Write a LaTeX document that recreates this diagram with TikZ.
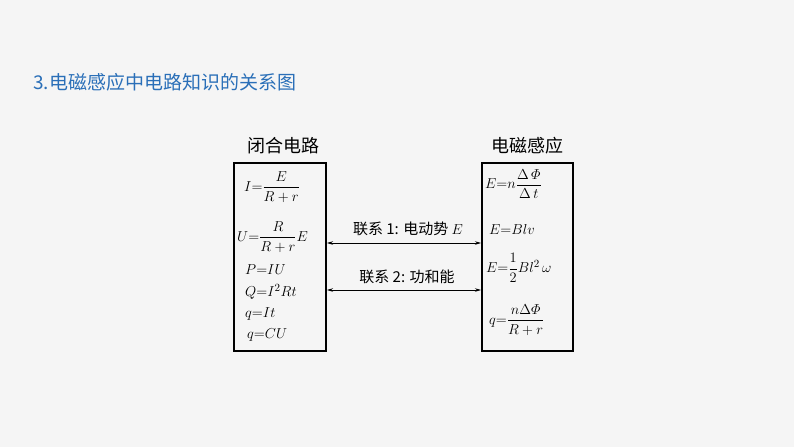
\documentclass[tikz,border=0pt]{standalone}
\usepackage{amsmath}
\usepackage{fontspec}
\newfontfamily\cjk{Noto Sans CJK SC}
\usetikzlibrary{arrows.meta}
\definecolor{titleblue}{HTML}{2A6FB8}
\tikzset{box/.style={draw,line width=1.3pt},
 link/.style={{Stealth[length=6pt,width=3.5pt]}-{Stealth[length=6pt,width=3.5pt]},line width=0.7pt},
 f/.style={font=\fontsize{15}{16}\selectfont,inner sep=0pt},
 lab/.style={font=\fontsize{15}{16}\selectfont\cjk,inner sep=0pt}}
\begin{document}
\begin{tikzpicture}[x=1pt,y=-1pt]
\fill[gray!8] (0,0) rectangle (794,447);
\useasboundingbox (0,0) rectangle (794,447);
\node[anchor=west,inner sep=0pt,text=titleblue,font=\fontsize{19}{21}\selectfont\cjk] (t) at (33,82) {3.电磁感应中电路知识的关系图};
\node[lab,font=\fontsize{18}{19}\selectfont\cjk] (h1) at (283,146) {闭合电路};
\node[lab,font=\fontsize{18}{19}\selectfont\cjk] (h2) at (527,146) {电磁感应};
\node[box,minimum width=92,minimum height=188,inner sep=0pt] (L) at (280,257) {};
\node[box,minimum width=91,minimum height=188,inner sep=0pt] (R) at (527.5,257) {};
\node[f,anchor=west] at (244,187) {$I{=}\dfrac{E}{R+r}$};
\node[f,anchor=west] at (237,237) {$U{=}\dfrac{R}{R+r}E$};
\node[f,anchor=west] at (245,270) {$P{=}IU$};
\node[f,anchor=west] at (245,292) {$Q{=}I^2Rt$};
\node[f,anchor=west] at (245,314) {$q{=}It$};
\node[f,anchor=west] at (247,335) {$q{=}CU$};
\node[f,anchor=west] at (485,184) {$E{=}n\dfrac{\Delta\,\varPhi}{\Delta\, t}$};
\node[f,anchor=west] at (489,229) {$E{=}Blv$};
\node[f,anchor=west] at (486,268) {$E{=}\dfrac12 Bl^2\,\omega$};
\node[f,anchor=west] at (489,320) {$q{=}\dfrac{n\Delta\varPhi}{R+r}$};
\coordinate (a1) at (327,243); \coordinate (b1) at (481,243);
\coordinate (a2) at (327,290); \coordinate (b2) at (481,290);
\draw[link] (a1) -- (b1);
\draw[link] (a2) -- (b2);
\node[lab] (l1) at (408,229) {联系 1: 电动势 $E$};
\node[lab] (l2) at (407,277) {联系 2: 功和能};
\end{tikzpicture}
\end{document}
